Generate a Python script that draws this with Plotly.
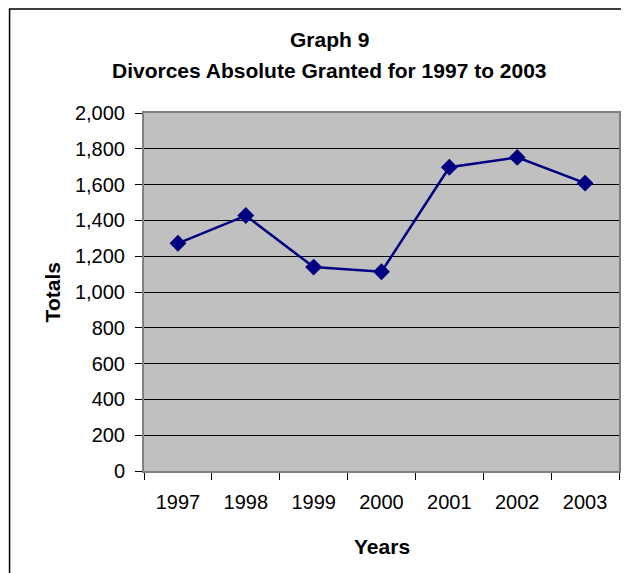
import plotly.graph_objects as go

years = ["1997", "1998", "1999", "2000", "2001", "2002", "2003"]
totals = [1272, 1427, 1139, 1113, 1697, 1752, 1608]

OFF = 8  # page body margin
W, H = 629 - OFF, 573 - OFF
L, R, T, B = 144 - OFF, 621 - OFF, 113 - OFF, 471 - OFF
pw, ph = R - L, B - T

def px(x):
    return (x - OFF - L) / pw

def py(y):
    return (B - (y - OFF)) / ph

FONT = "Liberation Sans, Arial, sans-serif"

fig = go.Figure()
fig.add_trace(go.Scatter(
    x=years, y=totals, mode="lines+markers",
    line=dict(color="#000080", width=2.5),
    marker=dict(symbol="diamond", size=13, color="#000080"),
    showlegend=False, hoverinfo="skip",
))

fig.update_layout(
    width=W, height=H,
    margin=dict(l=L, r=W - R, t=T, b=H - B, pad=0),
    paper_bgcolor="white", plot_bgcolor="#C0C0C0",
    font=dict(family=FONT, size=20, color="black"),
    xaxis=dict(
        type="category", range=[-0.5, 6.5],
        showgrid=False, zeroline=False,
        showline=True, linecolor="#808080", linewidth=2, mirror=True,
        ticks="outside", tickson="boundaries", ticklen=7, tickcolor="black", tickwidth=1,
        ticklabelstandoff=12,
        tickfont=dict(size=20),
    ),
    yaxis=dict(
        range=[0, 2000], dtick=200, tickformat=",",
        showgrid=True, gridcolor="black", gridwidth=1,
        zeroline=False,
        showline=True, linecolor="#808080", linewidth=2, mirror=True,
        ticks="outside", ticklen=7, tickcolor="black", tickwidth=1,
        ticklabelstandoff=6,
        tickfont=dict(size=20),
    ),
    annotations=[
        dict(text="<b>Graph 9</b>", x=px(330), y=py(40), xref="paper", yref="paper",
             showarrow=False, xanchor="center", yanchor="middle", font=dict(size=21)),
        dict(text="<b>Divorces Absolute Granted for 1997 to 2003</b>", x=px(330), y=py(70),
             xref="paper", yref="paper", showarrow=False, xanchor="center", yanchor="middle",
             font=dict(size=21)),
        dict(text="<b>Years</b>", x=0.5, y=py(546), xref="paper", yref="paper",
             showarrow=False, xanchor="center", yanchor="middle", font=dict(size=21)),
        dict(text="<b>Totals</b>", x=px(52), y=0.5, xref="paper", yref="paper", textangle=-90,
             showarrow=False, xanchor="center", yanchor="middle", font=dict(size=21)),
    ],
    shapes=[
        dict(type="rect", xref="paper", yref="paper",
             x0=px(9), x1=px(680), y0=py(620), y1=py(9),
             line=dict(color="black", width=1.5), layer="below"),
    ],
)

fig.write_html("out.html")
